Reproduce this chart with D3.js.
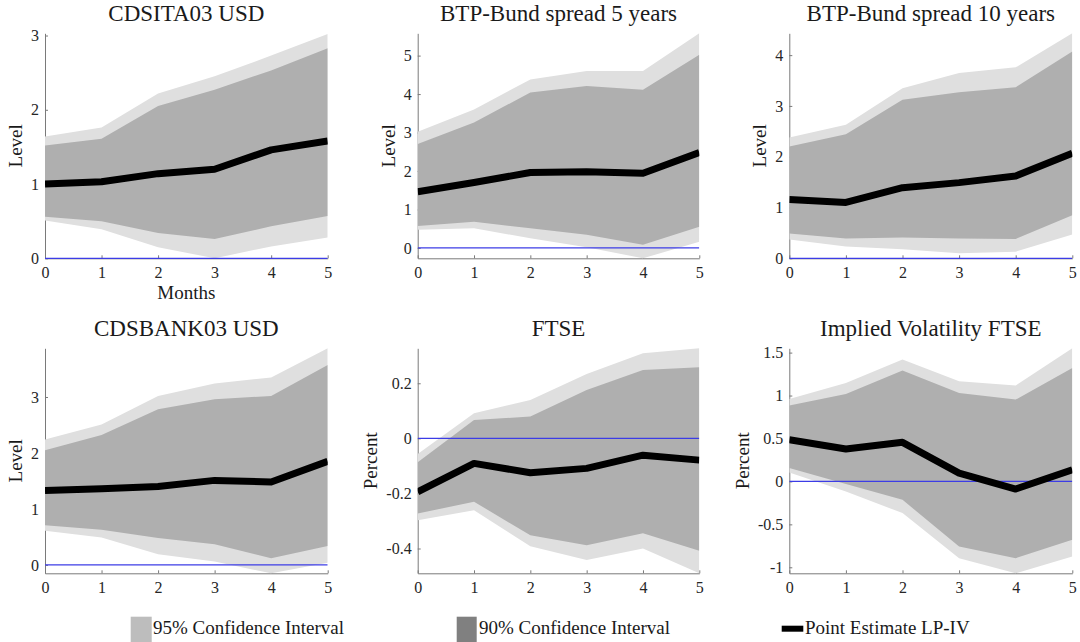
<!DOCTYPE html>
<html>
<head>
<meta charset="utf-8">
<script src="https://cdn.jsdelivr.net/npm/d3@7"></script>
<style>
  body { margin: 0; background: #fff; }
  svg text { font-family: "Liberation Serif", "Times New Roman", Times, "DejaVu Serif", serif; fill: #1a1a1a; }
</style>
</head>
<body>
<script>
// horizons in months
const horizons = [0, 1, 2, 3, 4, 5];

const titles = ['CDSITA03 USD', 'BTP-Bund spread 5 years', 'BTP-Bund spread 10 years',
                'CDSBANK03 USD', 'FTSE', 'Implied Volatility FTSE'];
const yLabels = ['Level', 'Level', 'Level', 'Level', 'Percent', 'Percent'];
const yLimits = [[0, 3.03], [-0.27, 5.58], [0, 4.43], [-0.15, 3.87], [-0.49, 0.327], [-1.07, 1.55]];
const yTicks = [[0, 1, 2, 3], [0, 1, 2, 3, 4, 5], [0, 1, 2, 3, 4], [0, 1, 2, 3],
                [-0.4, -0.2, 0, 0.2], [-1, -0.5, 0, 0.5, 1, 1.5]];

// one row per panel
const pointEstimate = [
    [1.00, 1.03, 1.14, 1.20, 1.46, 1.58],
    [1.46, 1.70, 1.96, 1.98, 1.94, 2.48],
    [1.16, 1.10, 1.39, 1.49, 1.62, 2.07],
    [1.33, 1.36, 1.40, 1.51, 1.48, 1.85],
    [-0.194, -0.091, -0.125, -0.109, -0.061, -0.079],
    [0.486, 0.377, 0.455, 0.097, -0.089, 0.136]
];
const upper95 = [
    [1.64, 1.76, 2.22, 2.45, 2.73, 3.02],
    [3.02, 3.60, 4.38, 4.60, 4.60, 5.58],
    [2.38, 2.63, 3.35, 3.65, 3.76, 4.43],
    [2.24, 2.51, 3.02, 3.24, 3.35, 3.87],
    [-0.057, 0.091, 0.139, 0.234, 0.309, 0.327],
    [0.96, 1.147, 1.42, 1.166, 1.116, 1.555]
];
const upper90 = [
    [1.52, 1.61, 2.05, 2.27, 2.53, 2.83],
    [2.70, 3.26, 4.04, 4.21, 4.11, 5.02],
    [2.20, 2.44, 3.12, 3.27, 3.37, 4.07],
    [2.05, 2.32, 2.78, 2.96, 3.02, 3.57],
    [-0.087, 0.067, 0.079, 0.176, 0.248, 0.258],
    [0.883, 1.019, 1.291, 1.03, 0.953, 1.322]
];
const lower90 = [
    [0.56, 0.50, 0.34, 0.26, 0.43, 0.57],
    [0.57, 0.68, 0.51, 0.34, 0.08, 0.55],
    [0.49, 0.39, 0.41, 0.39, 0.38, 0.85],
    [0.71, 0.63, 0.48, 0.37, 0.12, 0.34],
    [-0.273, -0.230, -0.352, -0.388, -0.345, -0.408],
    [0.156, -0.031, -0.214, -0.758, -0.894, -0.68]
];
const lower95 = [
    [0.51, 0.39, 0.15, 0.00, 0.16, 0.28],
    [0.47, 0.51, 0.25, 0.02, -0.27, 0.16],
    [0.37, 0.23, 0.18, 0.10, 0.13, 0.47],
    [0.61, 0.49, 0.19, 0.06, -0.15, 0.04],
    [-0.297, -0.261, -0.392, -0.442, -0.400, -0.491],
    [0.105, -0.117, -0.369, -0.894, -1.07, -0.875]
];

const legendLabels = ['95% Confidence Interval', '90% Confidence Interval', 'Point Estimate LP-IV'];

const colX = [[45, 327.7], [417.7, 699.3], [789.3, 1072.3]];
const rowY = [[33.3, 258.3], [348.3, 573.3]];
const light = '#dfdfdf', dark = '#afafaf';
const serif = '"Liberation Serif", "Times New Roman", Times, "DejaVu Serif", serif';

const svg = d3.select('body').append('svg')
    .attr('width', 1080).attr('height', 642);
svg.append('rect').attr('width', 1080).attr('height', 642).attr('fill', '#fff');

titles.forEach((title, i) => {
    const col = i % 3, row = Math.floor(i / 3);
    const x = d3.scaleLinear().domain([0, 5]).range(colX[col]);
    const y = d3.scaleLinear().domain(yLimits[i]).range([rowY[row][1], rowY[row][0]]);
    const g = svg.append('g').attr('class', 'panel');

    // axes go first (matlab draws the axis layer below the data)
    const xAxis = g.append('g')
        .attr('transform', `translate(0,${rowY[row][1]})`)
        .call(d3.axisBottom(x).tickValues(horizons).tickFormat(d3.format('d'))
            .tickSize(-3).tickSizeOuter(0).tickPadding(8.5));
    const yAxis = g.append('g')
        .attr('transform', `translate(${colX[col][0]},0)`)
        .call(d3.axisLeft(y).tickValues(yTicks[i]).tickFormat(d => String(d))
            .tickSize(-3).tickSizeOuter(0).tickPadding(6));
    [xAxis, yAxis].forEach(a => {
        a.attr('font-family', serif).attr('font-size', 16);
        a.selectAll('.domain, line').attr('stroke', '#7a7a7a');
        a.selectAll('text').style('fill', '#262626');
    });

    svg.append('clipPath').attr('id', 'clip' + i)
        .append('rect')
        .attr('x', colX[col][0]).attr('y', rowY[row][0] - 1)
        .attr('width', colX[col][1] - colX[col][0])
        .attr('height', rowY[row][1] - rowY[row][0] + 2);
    const plot = g.append('g').attr('clip-path', `url(#clip${i})`);

    const band = (lo, hi) => d3.area()
        .x((d, j) => x(d))
        .y0((d, j) => y(Math.max(lo[i][j], yLimits[i][0])))
        .y1((d, j) => y(Math.min(hi[i][j], yLimits[i][1])));

    plot.append('path').attr('d', band(lower95, upper95)(horizons)).attr('fill', light);
    plot.append('path').attr('d', band(lower90, upper90)(horizons)).attr('fill', dark);

    plot.append('line')
        .attr('x1', x(0)).attr('x2', x(5))
        .attr('y1', y(0)).attr('y2', y(0))
        .attr('stroke', '#3c3ce6').attr('stroke-width', 1.2);

    plot.append('path')
        .attr('d', d3.line().x(d => x(d)).y((d, j) => y(pointEstimate[i][j]))(horizons))
        .attr('fill', 'none').attr('stroke', '#000').attr('stroke-width', 7)
        .attr('stroke-linejoin', 'round');

    const box = yAxis.node().getBBox();
    const cy = (rowY[row][0] + rowY[row][1]) / 2;
    g.append('text')
        .attr('transform', `translate(${colX[col][0] + box.x - 9},${cy}) rotate(-90)`)
        .attr('text-anchor', 'middle').attr('font-size', 19)
        .text(yLabels[i]);

    g.append('text')
        .attr('x', (colX[col][0] + colX[col][1]) / 2)
        .attr('y', rowY[row][0] - 12.5)
        .attr('text-anchor', 'middle').attr('font-size', 23)
        .text(title);

    if (i === 0) {
        g.append('text')
            .attr('x', (colX[col][0] + colX[col][1]) / 2)
            .attr('y', 299)
            .attr('text-anchor', 'middle').attr('font-size', 19)
            .text('Months');
    }
});

// legend
const legend = svg.append('g').attr('class', 'legend');
const swatches = [
    {x: 130.7, y: 616.7, w: 21, h: 26, fill: '#bdbdbd', tx: 153},
    {x: 456.7, y: 616.7, w: 20, h: 26, fill: '#808080', tx: 479},
    {x: 781.7, y: 625.7, w: 21.6, h: 6, fill: '#000', tx: 805}
];
swatches.forEach((s, k) => {
    legend.append('rect').attr('x', s.x).attr('y', s.y)
        .attr('width', s.w).attr('height', s.h).attr('fill', s.fill);
    legend.append('text').attr('x', s.tx).attr('y', 633.5)
        .attr('font-size', 19).text(legendLabels[k]);
});
</script>
</body>
</html>
